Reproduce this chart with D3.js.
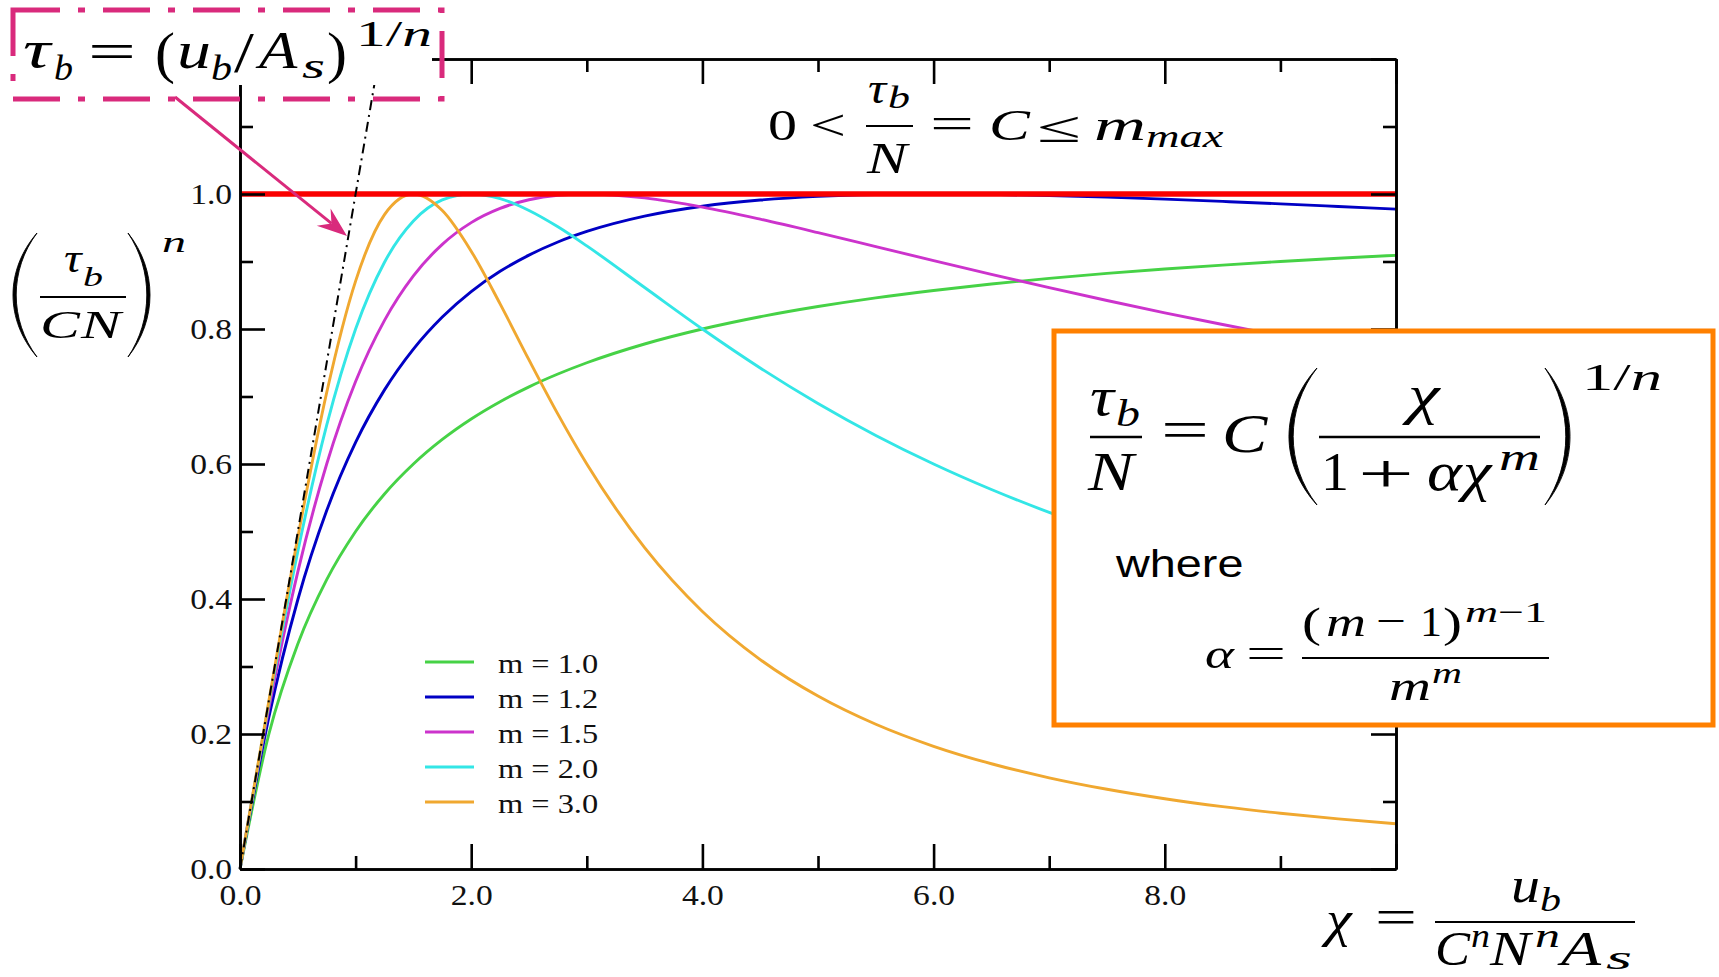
<!DOCTYPE html>
<html><head><meta charset="utf-8">
<script src="https://cdn.jsdelivr.net/npm/d3@7"></script>
<style>html,body{margin:0;padding:0;background:#fff;} svg{display:block}</style>
</head><body>
<svg id="chart" width="1719" height="977"></svg>
<script>
// ---------------- data ----------------
const chiValues = [0,0.25,0.5,0.75,1,1.25,1.5,1.75,2,2.25,2.5,2.75,3,3.5,4,4.5,5,5.5,6,6.5,7,7.5,8,8.5,9,9.5,10];
const seriesM10 = [0,0.2,0.3333,0.4286,0.5,0.5556,0.6,0.6364,0.6667,0.6923,0.7143,0.7333,0.75,0.7778,0.8,0.8182,0.8333,0.8462,0.8571,0.8667,0.875,0.8824,0.8889,0.8947,0.9,0.9048,0.9091];
const seriesM12 = [0,0.2252,0.3989,0.5310,0.6320,0.7098,0.7703,0.8178,0.8555,0.8855,0.9095,0.9289,0.9445,0.9672,0.9819,0.9911,0.9965,0.9992,1.0,0.9994,0.9977,0.9953,0.9924,0.9890,0.9854,0.9815,0.9776];
const seriesM15 = [0,0.2385,0.4401,0.6,0.7221,0.8128,0.8787,0.9254,0.9576,0.9787,0.9915,0.9981,1.0,0.9942,0.9806,0.9627,0.9428,0.9221,0.9013,0.8809,0.8612,0.8422,0.8240,0.8066,0.7900,0.7742,0.7592];
const seriesM20 = [0,0.2462,0.4706,0.6575,0.8,0.8989,0.96,0.9912,1.0,0.9931,0.9756,0.9514,0.9231,0.8615,0.8,0.7423,0.6897,0.6423,0.6,0.5622,0.5283,0.4979,0.4706,0.4459,0.4235,0.4032,0.3846];
const seriesM30 = [0,0.2494,0.4909,0.7059,0.8710,0.9695,1.0,0.9755,0.9153,0.8372,0.7542,0.6739,0.6,0.4761,0.3816,0.3103,0.2562,0.2144,0.1818,0.1559,0.1351,0.1181,0.1041,0.0924,0.0826,0.0742,0.0671];
const seriesLabels = ["m = 1.0","m = 1.2","m = 1.5","m = 2.0","m = 3.0"];
const limitX = [0,10], limitY = [1,1];
const slopeX = [0,1.2], slopeY = [0,1.2];
const xMajor = [0,2,4,6,8,10], xMinor = [1,3,5,7,9];
const xTickLabels = ["0.0","2.0","4.0","6.0","8.0",""];
const yMajor = [0,0.2,0.4,0.6,0.8,1.0,1.2], yMinor = [0.1,0.3,0.5,0.7,0.9,1.1];
const yTickLabels = ["0.0","0.2","0.4","0.6","0.8","1.0",""];

// ---------------- styles ----------------
const seriesColors = ["#46d246","#0000c4","#cc33cc","#33e6e6","#f0a830"];
const SERIF = "'Liberation Serif','Times New Roman',serif";
const SANS = "'Liberation Sans',Arial,sans-serif";
const SX = 1.18;
const PINK = "#d92a7c", ORANGE = "#ff8000";

const svg = d3.select("#chart");
svg.append("rect").attr("width",1719).attr("height",977).attr("fill","#fff");

const x = d3.scaleLinear().domain([0,10]).range([240,1396]);
const y = d3.scaleLinear().domain([0,1.2]).range([869,59]);

// text helper: segments [[str, italic], ...]; opts.w fits the advance width
function put(parent, px, py, segs, size, opts = {}) {
  const t = parent.append("text")
    .attr("transform", `translate(${px},${py}) scale(${opts.sx || SX},1)`)
    .attr("font-family", opts.family || SERIF)
    .attr("font-size", size)
    .attr("text-anchor", opts.anchor || "start")
    .attr("fill", opts.fill || "#000");
  if (typeof segs === "string") segs = [[segs, 0]];
  segs.forEach(s => t.append("tspan").attr("font-style", s[1] ? "italic" : "normal").text(s[0]));
  if (opts.w) {
    const bw = t.node().getBBox().width;
    if (bw > 0) t.attr("transform", `translate(${px},${py}) scale(${opts.w / bw},1)`);
  }
  return t;
}
function bar(parent, x1, x2, yy, w) {
  parent.append("line").attr("x1",x1).attr("x2",x2).attr("y1",yy).attr("y2",yy)
    .attr("stroke","#000").attr("stroke-width",w||2);
}
function bigParen(parent, xTip, xBelly, y0, y1, th) {
  const h = y1 - y0;
  const dir = xBelly < xTip ? 1 : -1;
  const c1 = (xBelly - 0.25 * xTip) / 0.75;
  const c2 = (xBelly + dir * th - 0.25 * xTip) / 0.75;
  const d = `M${xTip},${y0} C${c1},${y0+h*0.3} ${c1},${y1-h*0.3} ${xTip},${y1} C${c2},${y1-h*0.3} ${c2},${y0+h*0.3} ${xTip},${y0} Z`;
  parent.append("path").attr("d", d).attr("fill","#000").attr("stroke","#000").attr("stroke-width",0.9);
}

// ---------------- curves ----------------
const plot = svg.append("g");
const line = d3.line().x(d => x(d[0])).y(d => y(d[1])).curve(d3.curveMonotoneX);
const allSeries = [seriesM10, seriesM12, seriesM15, seriesM20, seriesM30];
allSeries.forEach((vals, i) => {
  plot.append("path")
    .datum(chiValues.map((c, j) => [c, vals[j]]))
    .attr("d", line).attr("fill","none")
    .attr("stroke", seriesColors[i]).attr("stroke-width", 2.9)
    .attr("stroke-linejoin","round");
});
const straight = d3.line().x(d => x(d[0])).y(d => y(d[1]));
plot.append("path").datum(limitX.map((v,i)=>[v, limitY[i]])).attr("d", straight)
  .attr("stroke","#fa0000").attr("stroke-width",5.5).attr("fill","none");
plot.append("path").datum(slopeX.map((v,i)=>[v, slopeY[i]])).attr("d", straight)
  .attr("stroke","#000").attr("stroke-width",2).attr("fill","none")
  .attr("stroke-dasharray","10,5,2,5");

// ---------------- axes ----------------
function styleAxis(g) {
  g.select(".domain").attr("stroke","#000").attr("stroke-width",2.6);
  g.selectAll(".tick line").attr("stroke","#000").attr("stroke-width",2.6);
  g.selectAll(".tick text").attr("font-family", SERIF).attr("font-size", 30)
    .attr("fill","#111").attr("transform", "scale(1.12,1)");
}
const axes = svg.append("g");
const gB = axes.append("g").attr("transform","translate(0,869)")
  .call(d3.axisBottom(x).tickValues(xMajor).tickSize(-25).tickSizeOuter(0).tickPadding(15)
    .tickFormat((d,i) => xTickLabels[i]));
styleAxis(gB);
const gBm = axes.append("g").attr("transform","translate(0,869)")
  .call(d3.axisBottom(x).tickValues(xMinor).tickSize(-13).tickSizeOuter(0).tickFormat(""));
styleAxis(gBm);
const gT = axes.append("g").attr("transform","translate(0,59)")
  .call(d3.axisTop(x).tickValues(xMajor).tickSize(-25).tickSizeOuter(0).tickFormat(""));
styleAxis(gT);
const gTm = axes.append("g").attr("transform","translate(0,59)")
  .call(d3.axisTop(x).tickValues(xMinor).tickSize(-13).tickSizeOuter(0).tickFormat(""));
styleAxis(gTm);
const gL = axes.append("g").attr("transform","translate(240,0)")
  .call(d3.axisLeft(y).tickValues(yMajor).tickSize(-25).tickSizeOuter(0).tickPadding(7)
    .tickFormat((d,i) => yTickLabels[i]));
styleAxis(gL);
const gLm = axes.append("g").attr("transform","translate(240,0)")
  .call(d3.axisLeft(y).tickValues(yMinor).tickSize(-13).tickSizeOuter(0).tickFormat(""));
styleAxis(gLm);
const gR = axes.append("g").attr("transform","translate(1396,0)")
  .call(d3.axisRight(y).tickValues(yMajor).tickSize(-25).tickSizeOuter(0).tickFormat(""));
styleAxis(gR);
const gRm = axes.append("g").attr("transform","translate(1396,0)")
  .call(d3.axisRight(y).tickValues(yMinor).tickSize(-13).tickSizeOuter(0).tickFormat(""));
styleAxis(gRm);

// ---------------- legend ----------------
const legend = svg.append("g");
seriesLabels.forEach((lab, i) => {
  const ly = 662 + i * 35;
  legend.append("line").attr("x1",425).attr("x2",474).attr("y1",ly).attr("y2",ly)
    .attr("stroke", seriesColors[i]).attr("stroke-width",3);
  put(legend, 498, ly + 11, lab, 27, {fill:"#111", sx:1.2});
});

// ---------------- top formula ----------------
const ann = svg.append("g");
put(ann, 768, 140, "0", 44, {w:29});
put(ann, 810, 140, "<", 44, {w:36});
put(ann, 868, 103, [["τ",1]], 44, {w:20});
put(ann, 888, 108, [["b",1]], 32, {w:22});
bar(ann, 866, 913, 126, 2.2);
put(ann, 867, 173, [["N",1]], 44, {w:45});
put(ann, 930, 138, "=", 44, {w:44});
put(ann, 989, 140, [["C",1]], 44, {w:42});
put(ann, 1037, 142, "≤", 44, {w:44});
put(ann, 1094, 140, [["m",1]], 44, {w:52});
put(ann, 1146, 147, [["max",1]], 32, {w:78});

// ---------------- left axis label ----------------
bigParen(ann, 37, 13, 233, 357, 3.2);
put(ann, 64, 272, [["τ",1]], 40, {w:19});
put(ann, 83, 286, [["b",1]], 28, {w:20});
bar(ann, 40, 126, 297, 2);
put(ann, 40, 338, [["C",1]], 40, {w:41});
put(ann, 81, 338, [["N",1]], 40, {w:45});
bigParen(ann, 128, 150, 233, 357, 3.2);
put(ann, 162, 252, [["n",1]], 30, {w:24});

// ---------------- bottom-right axis label ----------------
put(ann, 1326, 936, [["χ",1]], 50, {w:33});
put(ann, 1375, 934, "=", 50, {w:42});
put(ann, 1511, 902, [["u",1]], 50, {w:29});
put(ann, 1540, 911, [["b",1]], 34, {w:21});
bar(ann, 1435, 1635, 922, 2.2);
put(ann, 1435, 965, [["C",1]], 48, {w:36});
put(ann, 1471, 947, [["n",1]], 34, {w:19});
put(ann, 1490, 965, [["N",1]], 48, {w:45});
put(ann, 1535, 947, [["n",1]], 34, {w:25});
put(ann, 1561, 965, [["A",1]], 48, {w:45});
put(ann, 1606, 969, [["s",1]], 34, {w:26});

// ---------------- right formula box ----------------
const box = svg.append("g");
box.append("rect").attr("x",1054).attr("y",331).attr("width",659).attr("height",394)
  .attr("fill","#fff").attr("stroke",ORANGE).attr("stroke-width",5);
put(box, 1090, 415, [["τ",1]], 54, {w:26});
put(box, 1116, 426, [["b",1]], 38, {w:24});
bar(box, 1090, 1142, 437, 2.4);
put(box, 1088, 490, [["N",1]], 54, {w:51});
put(box, 1161, 448, "=", 54, {w:48});
put(box, 1222, 452, [["C",1]], 54, {w:46});
bigParen(box, 1317, 1289, 368, 505, 4.2);
put(box, 1408, 413, [["χ",1]], 54, {w:40});
bar(box, 1319, 1540, 437, 2.4);
put(box, 1321, 490, "1", 54, {w:28});
put(box, 1358, 492, "+", 54, {w:56});
put(box, 1427, 490, [["α",1]], 54, {w:36});
put(box, 1463, 490, [["χ",1]], 54, {w:36});
put(box, 1499, 470, [["m",1]], 38, {w:41});
bigParen(box, 1545, 1570, 368, 505, 4.2);
put(box, 1582, 390, [["1",0],["/",0],["n",1]], 38, {w:80});
put(box, 1116, 577, "where", 39, {family: SANS, sx: 1.2});
put(box, 1205, 668, [["α",1]], 42, {w:30});
put(box, 1246, 667, "=", 42, {w:40});
bar(box, 1302, 1549, 658, 2);
put(box, 1302, 637, "(", 42, {w:19});
put(box, 1326, 636, [["m",1]], 42, {w:40});
put(box, 1376, 635, "−", 42, {w:30});
put(box, 1420, 636, "1", 42, {w:22});
put(box, 1443, 637, ")", 42, {w:19});
put(box, 1465, 622, [["m",1],["−1",0]], 30, {w:82});
put(box, 1389, 700, [["m",1]], 42, {w:42});
put(box, 1432, 683, [["m",1]], 30, {w:30});

// ---------------- top-left boxed formula ----------------
const tl = svg.append("g");
tl.append("rect").attr("x",0).attr("y",0).attr("width",432).attr("height",85).attr("fill","#fff");
tl.append("rect").attr("x",13).attr("y",10).attr("width",429).attr("height",89)
  .attr("fill","none").attr("stroke",PINK).attr("stroke-width",5)
  .attr("stroke-dasharray","47,18,7,18");
put(tl, 23, 67, [["τ",1]], 52, {w:31});
put(tl, 54, 80, [["b",1]], 36, {w:19});
put(tl, 88, 69, "=", 52, {w:48});
put(tl, 155, 72, "(", 56, {w:20});
put(tl, 177, 68, [["u",1]], 52, {w:34});
put(tl, 211, 80, [["b",1]], 36, {w:21});
put(tl, 234, 72, "/", 56, {w:21});
put(tl, 259, 68, [["A",1]], 52, {w:43});
put(tl, 302, 78, [["s",1]], 36, {w:23});
put(tl, 327, 72, ")", 56, {w:20});
put(tl, 356, 46, [["1",0],["/",0],["n",1]], 36, {w:76});

// arrow
const ax0 = 175, ay0 = 97, ax1 = 347, ay1 = 236;
const ang = Math.atan2(ay1 - ay0, ax1 - ax0);
function pt(dx, dy) {
  return [ax1 + dx*Math.cos(ang) - dy*Math.sin(ang), ay1 + dx*Math.sin(ang) + dy*Math.cos(ang)];
}
const notch = pt(-20, 0);
tl.append("line").attr("x1",ax0).attr("y1",ay0).attr("x2",notch[0]).attr("y2",notch[1])
  .attr("stroke",PINK).attr("stroke-width",3);
tl.append("polygon").attr("points",[pt(0,0),pt(-30,-11),pt(-20,0),pt(-30,11)].map(p=>p.join(",")).join(" "))
  .attr("fill",PINK);
</script>
</body></html>
